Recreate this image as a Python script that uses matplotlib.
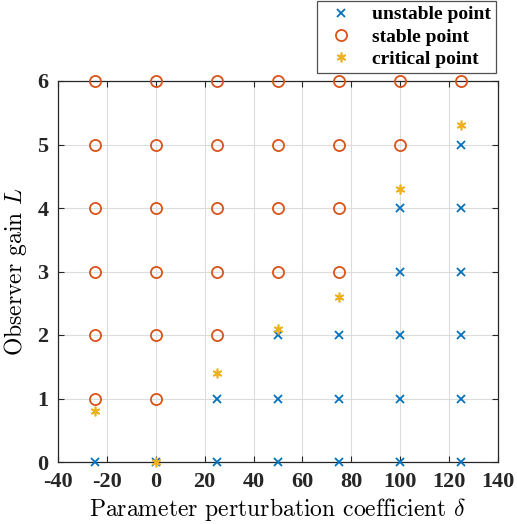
import matplotlib
matplotlib.use("Agg")
import matplotlib.pyplot as plt

plt.rcParams['font.family'] = ['Liberation Serif', 'DejaVu Serif']
plt.rcParams['mathtext.fontset'] = 'cm'

deltas = [-25, 0, 25, 50, 75, 100, 125]

unstable_x = [-25, 0, 25, 25, 50, 50, 50, 75, 75, 75,
              100, 100, 100, 100, 100, 125, 125, 125, 125, 125, 125]
unstable_y = [0, 0, 0, 1, 0, 1, 2, 0, 1, 2,
              0, 1, 2, 3, 4, 0, 1, 2, 3, 4, 5]

stable_x = [-25]*6 + [0]*6 + [25]*5 + [50]*4 + [75]*4 + [100]*2 + [125]
stable_y = [1, 2, 3, 4, 5, 6, 1, 2, 3, 4, 5, 6, 2, 3, 4, 5, 6,
            3, 4, 5, 6, 3, 4, 5, 6, 5, 6, 6]

critical_x = [-25, 0, 25, 50, 75, 100, 125]
critical_y = [0.8, 0.0, 1.4, 2.1, 2.6, 4.3, 5.3]

xticks = [-40, -20, 0, 20, 40, 60, 80, 100, 120, 140]
yticks = [0, 1, 2, 3, 4, 5, 6]

fig = plt.figure(figsize=(5.17, 5.24), dpi=100)
ax = fig.add_axes([58/517, 1-462/524, 440/517, 381/524])

h1, = ax.plot(unstable_x, unstable_y, 'x', color='#0072BD', markersize=6,
              markeredgewidth=1.3, linestyle='none', label='unstable point', clip_on=False, zorder=3)
h2, = ax.plot(stable_x, stable_y, 'o', markerfacecolor='none', markeredgecolor='#D95319',
              markersize=8, markeredgewidth=1.3, linestyle='none', label='stable point', clip_on=False, zorder=3)
h3, = ax.plot(critical_x, critical_y, linestyle='none', marker=(6, 2, 0), color='#EDB120',
              markersize=7, markeredgewidth=1.2, label='critical point', clip_on=False, zorder=4)

ax.set_xlim(-40, 140)
ax.set_ylim(0, 6)
ax.set_xticks(xticks)
ax.set_yticks(yticks)
ax.set_xticklabels([str(t) for t in xticks], fontweight='bold', fontsize=16)
ax.set_yticklabels([str(t) for t in yticks], fontweight='bold', fontsize=16)
ax.grid(True, color='#dcdcdc', linewidth=0.8)
ax.set_axisbelow(True)
ax.tick_params(direction='in', top=True, right=True, length=4, width=0.8,
               colors='#262626')
ax.tick_params(axis='x', pad=7)
ax.tick_params(axis='y', pad=7)
for s in ax.spines.values():
    s.set_color('#262626')
    s.set_linewidth(0.9)

ax.set_xlabel(r'Parameter perturbation coefficient $\delta$', fontsize=17,
              family=['cmr10', 'DejaVu Serif'], labelpad=3)
ax.set_ylabel(r'Observer gain $L$', fontsize=17,
              family=['cmr10', 'DejaVu Serif'], labelpad=6)

leg = fig.legend(handles=[h1, h2, h3], loc='upper right',
                 bbox_to_anchor=(496/517, 1-1/524), borderaxespad=0,
                 frameon=True, fancybox=False,
                 prop={'weight': 'bold', 'size': 14}, handletextpad=0.6,
                 borderpad=0.25, labelspacing=0.24, handlelength=2.0)
leg.get_frame().set_edgecolor('#262626')
leg.get_frame().set_linewidth(0.9)

fig.savefig('out.png', dpi=100)
